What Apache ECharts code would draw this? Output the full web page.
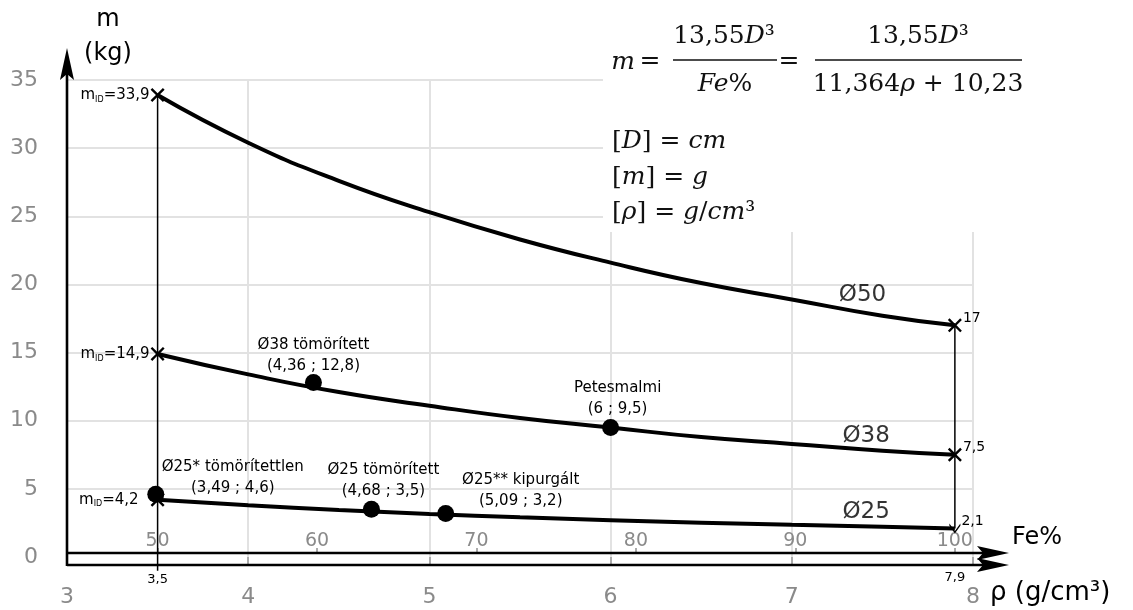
<!DOCTYPE html>
<html>
<head>
<meta charset="utf-8">
<script src="https://cdn.jsdelivr.net/npm/echarts@6/dist/echarts.min.js"></script>
<style>
html,body{margin:0;padding:0;background:#fff;}
#c{width:1133px;height:610px;}
</style>
</head>
<body>
<div id="c"></div>
<script>
// ---- data ----
const rhoValues = [3.5, 4, 4.5, 5, 5.5, 6, 6.5, 7, 7.5, 7.9];
const mass50 = [33.9, 30.4, 27.6, 25.3, 23.3, 21.6, 20.1, 18.9, 17.7, 17.0];
const mass38 = [14.9, 13.4, 12.1, 11.1, 10.2, 9.5, 8.8, 8.3, 7.8, 7.5];
const mass25 = [4.2, 3.8, 3.45, 3.16, 2.91, 2.7, 2.52, 2.36, 2.22, 2.1];

const pointNames = ['Ø25* tömörítettlen', 'Ø38 tömörített', 'Ø25 tömörített', 'Ø25** kipurgált', 'Petesmalmi'];
const pointRho = [3.49, 4.36, 4.68, 5.09, 6];
const pointMass = [4.6, 12.8, 3.5, 3.2, 9.5];

const limitRhoLeft = 3.5, limitRhoRight = 7.9;
const leftLimitMass = [33.9, 14.9, 4.2];
const rightLimitMass = [17, 7.5];
const rightArrowMass = 2.1;

const rhoTicks = [3, 4, 5, 6, 7, 8];
const feTicks = [50, 60, 70, 80, 90, 100];
const massTicks = [0, 5, 10, 15, 20, 25, 30, 35];
const curveNames = ['Ø50', 'Ø38', 'Ø25'];

// Fe% = 11,364 * rho + 10,23
const feA = 11.364, feB = 10.23;

const fmt = v => String(v).replace('.', ',');
const FONT = 'DejaVu Sans';
const SERIF = 'DejaVu Serif';
const GRAY = '#8a8a8a';
const GRID = '#e2e2e2';

const chart = echarts.init(document.getElementById('c'));

const curve = (vals) => rhoValues.map((x, i) => [x, vals[i]]);
const lineStyle = {color: '#000', width: 4};

const pointOffsets = [[77, 13], [0, 3], [12, 1], [75, 7], [7, 1]];

const crossPath = 'path://M0,1.2L1.2,0L5,3.8L8.8,0L10,1.2L6.2,5L10,8.8L8.8,10L5,6.2L1.2,10L0,8.8L3.8,5Z';
const chevronPath = 'path://M0,0L5,6.5L10,0L10,2L5,8.5L0,2Z';

const midRich = {
  a: {fontFamily: FONT, fontSize: 15, color: '#000'},
  b: {fontFamily: FONT, fontSize: 8, color: '#000', padding: [9, 0, 0, 0]}
};

chart.setOption({
  animation: false,
  grid: {left: 67, right: 160, top: 80, bottom: 53, containLabel: false},
  xAxis: [{
    type: 'value', min: rhoTicks[0], max: rhoTicks[rhoTicks.length - 1], interval: 1,
    position: 'bottom', offset: 8,
    axisLine: {show: false},
    axisTick: {show: true, length: 7, lineStyle: {color: '#aaa', width: 2}},
    axisLabel: {color: GRAY, fontSize: 22, fontFamily: FONT, margin: 21},
    splitLine: {show: true, showMinLine: false, lineStyle: {color: GRID, width: 2}}
  }, {
    type: 'value', min: feA * rhoTicks[0] + feB, max: feA * rhoTicks[rhoTicks.length - 1] + feB,
    position: 'bottom', offset: -4,
    axisLine: {show: false},
    axisTick: {show: true, inside: true, length: 5, customValues: feTicks, lineStyle: {color: '#aaa', width: 2}},
    axisLabel: {inside: true, customValues: feTicks, color: GRAY, fontSize: 19, fontFamily: FONT, margin: 2},
    splitLine: {show: false}
  }],
  yAxis: {
    type: 'value', min: massTicks[0], max: massTicks[massTicks.length - 1], interval: 5,
    axisLine: {show: false}, axisTick: {show: false},
    axisLabel: {color: GRAY, fontSize: 22, fontFamily: FONT, margin: 29},
    splitLine: {show: true, showMinLine: false, lineStyle: {color: GRID, width: 2}}
  },
  series: [
    {type: 'line', name: curveNames[0], data: curve(mass50), smooth: true, symbol: 'none', lineStyle, z: 3},
    {type: 'line', name: curveNames[1], data: curve(mass38), smooth: true, symbol: 'none', lineStyle, z: 3},
    {type: 'line', name: curveNames[2], data: curve(mass25), smooth: true, symbol: 'none', lineStyle, z: 3},
    // vertical limit lines
    {type: 'line', data: [[limitRhoLeft, leftLimitMass[0]], [limitRhoLeft, -1.0]], symbol: 'none', clip: false,
     lineStyle: {color: '#000', width: 1.5}, z: 2},
    {type: 'line', data: [[limitRhoRight, rightLimitMass[0]], [limitRhoRight, rightArrowMass]], symbol: 'none', clip: false,
     lineStyle: {color: '#000', width: 1.5}, z: 2},
    // crosses
    {type: 'scatter', symbol: crossPath, symbolSize: 14, itemStyle: {color: '#000', opacity: 1}, z: 5,
     data: leftLimitMass.map((m, i) => ({
       value: [limitRhoLeft, m],
       label: {show: true, position: 'left', distance: i === 2 ? 12 : 1,
               formatter: '{a|m}{b|ID}{a|=' + fmt(m) + '}', rich: midRich}
     })).concat(rightLimitMass.map(m => ({
       value: [limitRhoRight, m],
       label: {show: true, position: 'right', distance: 1, offset: [0, -7],
               formatter: fmt(m), fontFamily: FONT, fontSize: 14, color: '#000'}
     })))},
    {type: 'scatter', symbol: chevronPath, symbolSize: [11, 10], itemStyle: {color: '#000', opacity: 1}, z: 5,
     data: [{value: [limitRhoRight, rightArrowMass],
             label: {show: true, position: 'right', distance: 1, offset: [0, -7],
                     formatter: fmt(rightArrowMass), fontFamily: FONT, fontSize: 14, color: '#000'}}]},
    // measured points
    {type: 'scatter', symbol: 'circle', symbolSize: 17, itemStyle: {color: '#000', opacity: 1}, z: 6,
     data: pointRho.map((x, i) => ({
       value: [x, pointMass[i]], name: pointNames[i],
       label: {offset: pointOffsets[i]}
     })),
     label: {show: true, position: 'top', distance: 0, fontFamily: FONT, fontSize: 15, color: '#000',
             lineHeight: 21, align: 'center',
             formatter: p => p.name + '\n(' + fmt(p.value[0]) + ' ; ' + fmt(p.value[1]) + ')'}},
    // curve names
    {type: 'scatter', symbolSize: 1, itemStyle: {color: 'rgba(0,0,0,0)'}, z: 6,
     data: [[7.39, 19.2, curveNames[0]], [7.41, 8.9, curveNames[1]], [7.41, 3.3, curveNames[2]]],
     label: {show: true, position: 'inside', fontFamily: FONT, fontSize: 23, color: '#000',
             formatter: p => p.value[2]}}
  ]
});

// ---- decorations (axes with arrows, titles, formula) ----
const p0 = chart.convertToPixel({xAxisIndex: 0, yAxisIndex: 0}, [rhoTicks[0], 0]);
const pTop = chart.convertToPixel({xAxisIndex: 0, yAxisIndex: 0}, [rhoTicks[0], 35]);
const pEnd = chart.convertToPixel({xAxisIndex: 0, yAxisIndex: 0}, [rhoTicks[rhoTicks.length - 1], 0]);
const pL = chart.convertToPixel({xAxisIndex: 0, yAxisIndex: 0}, [limitRhoLeft, 0]);
const pR = chart.convertToPixel({xAxisIndex: 0, yAxisIndex: 0}, [limitRhoRight, 0]);
const x0 = p0[0], yFe = p0[1] - 4, yRho = p0[1] + 8, xTip = pEnd[0] + 36, yTip = pTop[1] - 32;

const blk = {stroke: '#000', lineWidth: 2.6};
const hArrow = (y) => ({type: 'polygon', z: 50,
  shape: {points: [[xTip, y], [xTip - 32, y - 7], [xTip - 26, y], [xTip - 32, y + 7]]}, style: {fill: '#000'}});

const serif = (txt, x, y, align, size) => ({
  type: 'text', z: 102, x: x, y: y,
  style: {text: txt, align: align, verticalAlign: 'middle', fill: '#111',
    rich: {n: {fontFamily: SERIF, fontSize: size || 25, fill: '#111'},
           i: {fontFamily: SERIF, fontStyle: 'italic', fontSize: size || 25, fill: '#111'}}}
});
const sans = (txt, x, y, size, align, color) => ({
  type: 'text', z: 60, x: x, y: y,
  style: {text: txt, fontFamily: FONT, fontSize: size, fill: color || '#000',
          align: align || 'center', verticalAlign: 'middle'}
});

chart.setOption({graphic: [
  // axes
  {type: 'line', z: 50, shape: {x1: x0, y1: yRho + 1, x2: x0, y2: yTip + 20}, style: blk},
  {type: 'polygon', z: 50, shape: {points: [[x0, yTip], [x0 + 7, yTip + 32], [x0, yTip + 26], [x0 - 7, yTip + 32]]}, style: {fill: '#000'}},
  {type: 'line', z: 50, shape: {x1: x0, y1: yFe, x2: xTip - 20, y2: yFe}, style: blk},
  hArrow(yFe),
  {type: 'line', z: 50, shape: {x1: x0, y1: yRho, x2: xTip - 20, y2: yRho}, style: blk},
  hArrow(yRho),
  // axis titles
  sans('m', 108, 20, 24),
  sans('(kg)', 108, 54, 24),
  sans('Fe%', 1037, 538, 24),
  sans('ρ (g/cm³)', 990, 593, 26, 'left'),
  sans(fmt(limitRhoLeft), pL[0], yRho + 15, 13, 'center', '#000'),
  sans(fmt(limitRhoRight), pR[0], yRho + 13, 13, 'center', '#000'),
  // formula box
  {type: 'rect', z: 100, shape: {x: 603, y: 0, width: 530, height: 232}, style: {fill: '#fff'}},
  serif('{i|m}', 623, 62, 'center'),
  serif('{n|=}', 650, 61, 'center'),
  {type: 'line', z: 102, shape: {x1: 673, y1: 60, x2: 777, y2: 60}, style: {stroke: '#111', lineWidth: 1.6}},
  serif('{n|13,55}{i|D}{n|³}', 724, 36, 'center'),
  serif('{i|Fe}{n|%}', 725, 84, 'center'),
  serif('{n|=}', 789, 61, 'center'),
  {type: 'line', z: 102, shape: {x1: 815, y1: 60, x2: 1022, y2: 60}, style: {stroke: '#111', lineWidth: 1.6}},
  serif('{n|13,55}{i|D}{n|³}', 918, 36, 'center'),
  serif('{n|11,364}{i|ρ}{n| + 10,23}', 918, 84, 'center'),
  serif('{n|[}{i|D}{n|] = }{i|cm}', 612, 141, 'left'),
  serif('{n|[}{i|m}{n|] = }{i|g}', 612, 177, 'left'),
  serif('{n|[}{i|ρ}{n|] = }{i|g}{n|/}{i|cm}{n|³}', 612, 212, 'left')
]});
</script>
</body>
</html>
